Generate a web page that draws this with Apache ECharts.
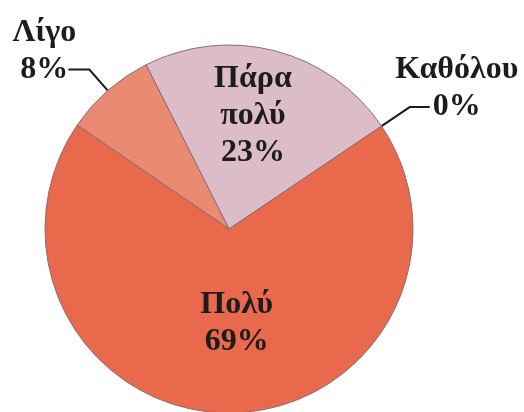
<!DOCTYPE html>
<html>
<head>
<meta charset="utf-8">
<script src="https://cdn.jsdelivr.net/npm/echarts@6/dist/echarts.min.js"></script>
<style>
  html, body { margin: 0; padding: 0; background: #fff; }
  #main { width: 524px; height: 412px; }
</style>
</head>
<body>
<div id="main"></div>
<script>
// answers, in drawing order (counter-clockwise from the upper right)
var names = ['Καθόλου', 'Πάρα πολύ', 'Λίγο', 'Πολύ'];
var values = [0, 23, 8, 69];
var colors = ['#e2a08c', '#dcbcc6', '#e98a72', '#e8694b'];

var chart = echarts.init(document.getElementById('main'));

var font = 'Liberation Serif';
var ink = '#1c1c1c';
var leader = { show: true, lineStyle: { color: ink, width: 2 } };

function outsideText(width) {
  return { width: width, align: 'center', lineHeight: 37, fontSize: 32, fontWeight: 'bold', fontFamily: font, color: ink };
}

var data = names.map(function (n, i) {
  var item = { name: n, value: values[i], itemStyle: { color: colors[i] } };
  if (n === 'Λίγο') {
    item.label = {
      position: 'outside',
      align: 'right',
      distanceToLabelLine: -16,
      formatter: '{t|{b}}\n{t|{c}%}\n{t|}',
      rich: { t: outsideText(80) }
    };
    item.labelLine = echarts.util.extend({ length: 28, length2: 21 }, leader);
  } else if (n === 'Καθόλου') {
    item.label = {
      position: 'outside',
      align: 'left',
      distanceToLabelLine: -43,
      formatter: '{t|{b}}\n{t|{c}%}\n{t|}',
      rich: { t: outsideText(140) }
    };
    item.labelLine = echarts.util.extend({ length: 34, length2: 20 }, leader);
  } else {
    item.labelLine = { show: false };
  }
  return item;
});

option = {
  backgroundColor: '#ffffff',
  animation: false,
  series: [{
    type: 'pie',
    center: [229, 229],
    radius: 184,
    startAngle: 34,
    clockwise: false,
    avoidLabelOverlap: false,
    label: {
      position: 'inside',
      formatter: function (p) {
        return p.name.replace(' ', '\n') + '\n' + p.value + '%';
      },
      fontSize: 32,
      fontWeight: 'bold',
      lineHeight: 37,
      fontFamily: font,
      color: ink
    },
    labelLayout: function (p) {
      if (p.dataIndex === 1) return { dy: -21 };
      if (p.dataIndex === 3) return { dx: 8, dy: -1 };
      return {};
    },
    itemStyle: {
      borderColor: '#8c6e6e',
      borderWidth: 1
    },
    emphasis: { disabled: true },
    data: data
  }]
};
chart.setOption(option);
</script>
</body>
</html>
